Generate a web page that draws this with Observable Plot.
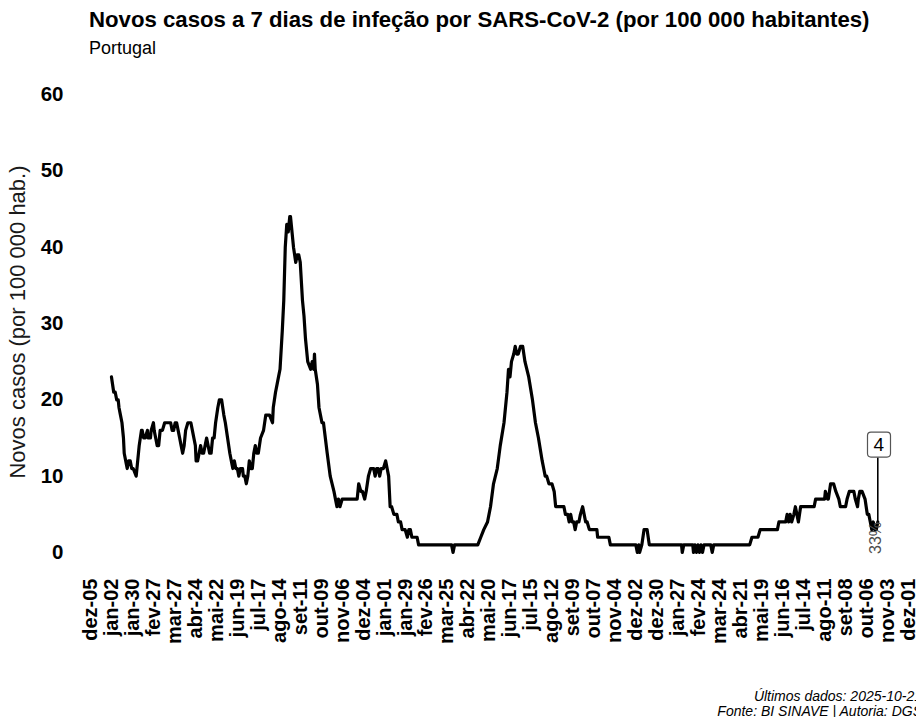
<!DOCTYPE html>
<html><head><meta charset="utf-8">
<script src="https://cdn.jsdelivr.net/npm/d3@7"></script>
<script src="https://cdn.jsdelivr.net/npm/@observablehq/plot@0.6"></script>
<style>
body{margin:0;background:#fff;font-family:"Liberation Sans",Arial,sans-serif;}
#wrap{position:relative;width:916px;height:717px;overflow:hidden;background:#fff}
#title{position:absolute;left:89px;top:9px;font-size:22.2px;font-weight:bold;line-height:22px;white-space:nowrap;color:#000}
#subtitle{position:absolute;left:89px;top:39px;font-size:18px;line-height:18px;white-space:nowrap;color:#000}
#ytitle{position:absolute;left:18px;top:322px;transform:translate(-50%,-50%) rotate(-90deg);font-size:22px;line-height:22px;white-space:nowrap;color:#1a1a1a}
#chart{position:absolute;left:0;top:62px}
.cap{position:absolute;right:-6px;font-size:14px;font-style:italic;text-align:right;line-height:14px;white-space:nowrap;color:#000}
#cap1{top:689px}
#cap2{top:704px}
</style></head>
<body>
<div id="wrap">
  <div id="title">Novos casos a 7 dias de infeção por SARS-CoV-2 (por 100 000 habitantes)</div>
  <div id="subtitle">Portugal</div>
  <div id="ytitle">Novos casos (por 100 000 hab.)</div>
  <div id="chart"></div>
  <div class="cap" id="cap1">Últimos dados: 2025-10-21</div>
  <div class="cap" id="cap2">Fonte: BI SINAVE | Autoria: DGS</div>
</div>
<script>
const dates = [
"2023-01-02","2023-01-05","2023-01-07","2023-01-09","2023-01-11","2023-01-12","2023-01-14","2023-01-16","2023-01-18","2023-01-19",
"2023-01-21","2023-01-23","2023-01-25","2023-01-27","2023-01-29","2023-01-31","2023-02-04","2023-02-06","2023-02-08","2023-02-11",
"2023-02-12","2023-02-14","2023-02-16","2023-02-19","2023-02-20","2023-02-23","2023-02-24","2023-02-27","2023-02-28","2023-03-02",
"2023-03-04","2023-03-06","2023-03-08","2023-03-11","2023-03-14","2023-03-22","2023-03-24","2023-03-26","2023-03-28","2023-03-30",
"2023-04-01","2023-04-03","2023-04-05","2023-04-07","2023-04-09","2023-04-11","2023-04-14","2023-04-18","2023-04-20","2023-04-22",
"2023-04-24","2023-04-25","2023-04-27","2023-04-29","2023-05-01","2023-05-03","2023-05-05","2023-05-07","2023-05-09","2023-05-11",
"2023-05-13","2023-05-15","2023-05-17","2023-05-19","2023-05-21","2023-05-24","2023-05-26","2023-05-29","2023-06-01","2023-06-03",
"2023-06-06","2023-06-09","2023-06-11","2023-06-13","2023-06-15","2023-06-17","2023-06-19","2023-06-21","2023-06-23","2023-06-26",
"2023-06-27","2023-06-29","2023-07-01","2023-07-03","2023-07-05","2023-07-07","2023-07-09","2023-07-11","2023-07-13","2023-07-15",
"2023-07-17","2023-07-20","2023-07-24","2023-07-27","2023-08-01","2023-08-05","2023-08-06","2023-08-09","2023-08-11","2023-08-13",
"2023-08-15","2023-08-18","2023-08-20","2023-08-22","2023-08-24","2023-08-26","2023-08-28","2023-08-29","2023-08-31","2023-09-02",
"2023-09-05","2023-09-07","2023-09-09","2023-09-11","2023-09-14","2023-09-16","2023-09-18","2023-09-21","2023-09-25","2023-09-27",
"2023-09-29","2023-09-30","2023-10-01","2023-10-04","2023-10-06","2023-10-08","2023-10-10","2023-10-12","2023-10-17","2023-10-21",
"2023-10-26","2023-10-28","2023-10-30","2023-11-01","2023-11-03","2023-11-06","2023-11-26","2023-11-28","2023-12-01","2023-12-03",
"2023-12-06","2023-12-08","2023-12-11","2023-12-14","2023-12-18","2023-12-20","2023-12-22","2023-12-24","2023-12-26","2023-12-28",
"2023-12-31","2024-01-03","2024-01-05","2024-01-07","2024-01-09","2024-01-11","2024-01-14","2024-01-18","2024-01-20","2024-01-23",
"2024-01-25","2024-01-27","2024-01-29","2024-02-01","2024-02-03","2024-02-05","2024-02-07","2024-02-11","2024-02-14","2024-02-16",
"2024-03-31","2024-04-02","2024-04-04","2024-05-05","2024-05-09","2024-05-13","2024-05-18","2024-05-20","2024-05-22","2024-05-26",
"2024-05-31","2024-06-04","2024-06-09","2024-06-13","2024-06-15","2024-06-17","2024-06-19","2024-06-22","2024-06-24","2024-06-26",
"2024-06-28","2024-07-01","2024-07-04","2024-07-07","2024-07-12","2024-07-17","2024-07-21","2024-07-25","2024-07-30","2024-08-01",
"2024-08-03","2024-08-05","2024-08-08","2024-08-12","2024-08-15","2024-08-17","2024-08-28","2024-08-30","2024-09-02","2024-09-04",
"2024-09-06","2024-09-08","2024-09-10","2024-09-12","2024-09-14","2024-09-17","2024-09-19","2024-09-22","2024-09-24","2024-09-26",
"2024-09-28","2024-10-01","2024-10-11","2024-10-12","2024-10-27","2024-10-29","2024-12-02","2024-12-04","2024-12-06","2024-12-07",
"2024-12-10","2024-12-13","2024-12-17","2024-12-20","2025-02-01","2025-02-02","2025-02-04","2025-02-16","2025-02-17","2025-02-19",
"2025-02-21","2025-02-23","2025-02-25","2025-02-27","2025-03-01","2025-03-03","2025-03-12","2025-03-14","2025-03-16","2025-05-03",
"2025-05-06","2025-05-14","2025-05-17","2025-06-09","2025-06-11","2025-06-20","2025-06-22","2025-06-24","2025-06-26","2025-06-28",
"2025-07-01","2025-07-03","2025-07-05","2025-07-07","2025-07-10","2025-07-28","2025-07-30","2025-08-11","2025-08-12","2025-08-15",
"2025-08-16","2025-08-19","2025-08-23","2025-08-26","2025-08-30","2025-09-01","2025-09-08","2025-09-10","2025-09-13","2025-09-19",
"2025-09-21","2025-09-24","2025-09-25","2025-09-27","2025-09-30","2025-10-04","2025-10-07","2025-10-09","2025-10-11","2025-10-13",
"2025-10-15","2025-10-17","2025-10-19","2025-10-21"
];
const values = [
23,21,21,20,20,19,18,17,15,13,
12,11,12,12,11,11,10,12,14,16,
16,15,15,16,15,15,16,17,16,15,
14,14,16,16,17,17,16,16,17,17,
16,15,14,13,14,16,17,17,16,15,
14,12,12,13,14,13,13,14,15,14,
13,13,15,15,17,19,20,20,18,17,
15,13,12,11,12,11,11,10,11,11,
10,10,9,10,12,11,11,13,14,13,
13,15,16,18,18,17,19,21,22,23,
24,29,33,40,43,42,44,44,42,40,
38,39,39,38,33,31,28,25,24,25,
24,26,24,22,19,18,17,17,13,10,
8,7,6,7,6,7,7,9,8,8,
7,8,10,11,11,10,11,11,10,11,
11,12,11,10,6,6,5,5,4,4,
3,3,3,2,3,3,2,2,2,1,
1,0,1,1,2,3,4,5,6,9,
11,14,17,21,24,23,25,26,27,26,
26,27,27,25,23,20,17,15,12,11,
10,10,9,9,8,6,6,5,5,4,
5,4,4,3,4,4,5,6,5,4,
4,3,3,2,2,1,1,0,1,0,
1,3,3,1,1,0,1,1,0,1,
0,1,0,1,0,1,1,0,1,1,
2,2,3,3,4,4,5,4,5,4,
5,6,5,4,6,6,7,7,8,7,
7,9,9,8,7,6,6,7,8,8,
7,6,7,8,8,7,5,5,4,3,
4,3,3,4
];
const tickDates = [
"2022-12-05","2023-01-02","2023-01-30","2023-02-27","2023-03-27","2023-04-24","2023-05-22","2023-06-19","2023-07-17","2023-08-14",
"2023-09-11","2023-10-09","2023-11-06","2023-12-04","2024-01-01","2024-01-29","2024-02-26","2024-03-25","2024-04-22","2024-05-20",
"2024-06-17","2024-07-15","2024-08-12","2024-09-09","2024-10-07","2024-11-04","2024-12-02","2024-12-30","2025-01-27","2025-02-24",
"2025-03-24","2025-04-21","2025-05-19","2025-06-16","2025-07-14","2025-08-11","2025-09-08","2025-10-06","2025-11-03","2025-12-01"
];
const monthNames = ["jan","fev","mar","abr","mai","jun","jul","ago","set","out","nov","dez"];
const yTicks = [0,10,20,30,40,50,60];
const endNote = "33%";

const data = dates.map((d,i) => ({date: new Date(d), value: values[i]}));
const last = data[data.length-1];
const ticks = tickDates.map(d => new Date(d));
const fmt = d => monthNames[d.getUTCMonth()] + "-" + String(d.getUTCDate()).padStart(2,"0");

const chart = Plot.plot({
  width: 916, height: 655,
  marginLeft: 90, marginRight: 8, marginTop: 32, marginBottom: 165,
  style: {fontFamily: '"Liberation Sans", Arial, sans-serif', color: "#000", background: "transparent"},
  x: {type: "utc", domain: [ticks[0], ticks[ticks.length-1]]},
  y: {domain: [0, 60]},
  marks: [
    Plot.axisX({ticks: ticks, tickFormat: fmt, tickRotate: -90, tickSize: 0, tickPadding: 26,
                fontSize: 20, fontWeight: "bold", label: null, fill: "#000"}),
    Plot.axisY({ticks: yTicks, tickSize: 0, tickPadding: 27, fontSize: 20.5, fontWeight: "bold", label: null, fill: "#000"}),
    Plot.line(data, {x: "date", y: "value", stroke: "#000", strokeWidth: 3.2, strokeLinejoin: "round", strokeLinecap: "round"}),
    Plot.ruleX([last], {x: "date", y1: "value", y2: "value", insetTop: -64, stroke: "#000", strokeWidth: 1.6}),
    Plot.text([last], {x: "date", y: "value", text: () => endNote, rotate: -90, textAnchor: "end", dx: -2, dy: 0,
                       fontSize: 16, fill: "#4d4d4d"}),
    Plot.text([last], {x: "date", y: "value", text: d => String(Math.round(d.value)), dy: -77, dx: 1,
                       fontSize: 19, fill: "#000", className: "endlabel"})
  ]
});
document.getElementById("chart").appendChild(chart);

// rounded box behind the end label
const lbl = chart.querySelector(".endlabel text") || chart.querySelector("g.endlabel text");
if (lbl) {
  const bb = lbl.getBBox();
  const g = lbl.parentNode;
  const rect = document.createElementNS("http://www.w3.org/2000/svg", "rect");
  const padX = 6, padY = 3;
  const tr = lbl.getAttribute("transform");
  if (tr) rect.setAttribute("transform", tr);
  rect.setAttribute("x", bb.x - padX);
  rect.setAttribute("y", bb.y - padY + 1);
  rect.setAttribute("width", bb.width + 2*padX);
  rect.setAttribute("height", bb.height + 2*padY - 2);
  rect.setAttribute("rx", 3.5);
  rect.setAttribute("fill", "#fff");
  rect.setAttribute("stroke", "#555");
  rect.setAttribute("stroke-width", 1.2);
  g.insertBefore(rect, lbl);
}
</script>
</body></html>
